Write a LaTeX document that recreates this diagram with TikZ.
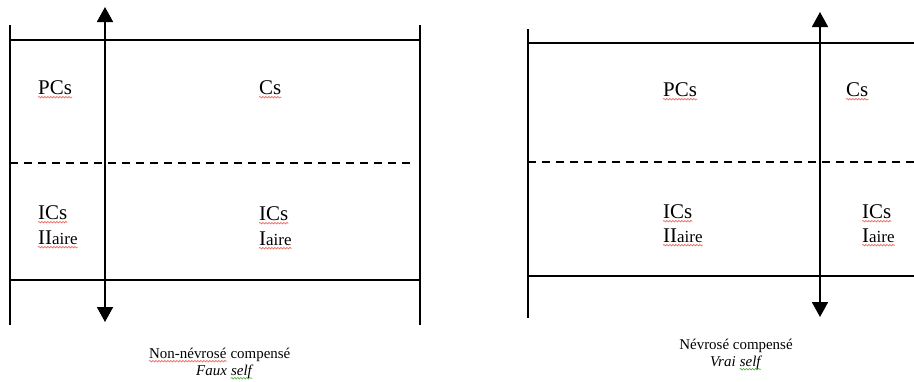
\documentclass[tikz,border=0pt]{standalone}
\usepackage{fontspec}
\setmainfont{Liberation Serif}
\usetikzlibrary{arrows.meta,decorations.pathmorphing}

\definecolor{spellred}{RGB}{235,95,80}
\definecolor{spellgreen}{RGB}{90,175,70}

\tikzset{
  rule/.style={draw=black, line width=1.8bp},
  divider/.style={rule, dash pattern=on 8bp off 6bp},
  axis/.style={rule, {Triangle[length=15bp,width=16bp]}-{Triangle[length=15bp,width=16bp]}},
  lab/.style={inner sep=0pt, anchor=base west, font=\fontsize{21}{25}\selectfont},
  captext/.style={inner sep=0pt, anchor=base west, font=\fontsize{15}{18}\selectfont},
  captextit/.style={captext, font=\fontsize{15}{18}\selectfont\itshape},
  spell/.style={draw=spellred, line width=0.6bp, decorate,
                decoration={snake, amplitude=0.8bp, segment length=3bp}},
  gram/.style={spell, draw=spellgreen},
}

% smaller ordinal ending after a roman numeral
\newcommand{\ordsuffix}{{\fontsize{17}{20}\selectfont aire}}

% wavy proofing mark under a node's text
\newcommand{\wavemark}[2][spell]{%
  \draw[#1] ([yshift=-3.2bp]#2.base west) -- ([yshift=-3.2bp]#2.base east);}

\begin{document}
\begin{tikzpicture}[x=1bp, y=-1bp]
  \fill[white] (0,0) rectangle (914,381);
  \useasboundingbox (0,0) rectangle (914,381);

  % ---------- left panel: frame ----------
  \coordinate (Lvl1) at (10,25);   \coordinate (Lvl2) at (10,325);
  \coordinate (Lvr1) at (420,25);  \coordinate (Lvr2) at (420,325);
  \coordinate (Ltop1) at (10,40);  \coordinate (Ltop2) at (420,40);
  \coordinate (Lbot1) at (10,280); \coordinate (Lbot2) at (420,280);
  \coordinate (Ldash1) at (10,163); \coordinate (Ldash2) at (413,163);
  \coordinate (Lax1) at (105,7);   \coordinate (Lax2) at (105,322);

  \draw[rule] (Lvl1) -- (Lvl2);
  \draw[rule] (Lvr1) -- (Lvr2);
  \draw[rule] (Ltop1) -- (Ltop2);
  \draw[rule] (Lbot1) -- (Lbot2);
  \draw[divider] (Ldash1) -- (Ldash2);
  \draw[axis] (Lax1) -- (Lax2);

  % ---------- left panel: labels ----------
  \node[lab] (LPCs) at (38,94) {PCs};
  \node[lab] (LCs) at (259,94) {Cs};
  \node[lab] (LICsA) at (38,219) {ICs};
  \node[lab] (LIIaire) at (38,244) {II\ordsuffix};
  \node[lab] (LICsB) at (259,220) {ICs};
  \node[lab] (LIaire) at (259,245) {I\ordsuffix};
  \foreach \n in {LPCs,LCs,LICsA,LIIaire,LICsB,LIaire} {\wavemark{\n}}

  % ---------- left panel: caption ----------
  \node[captext] (LcapA) at (149,358) {Non-névrosé};
  \node[captext] (LcapB) at ([xshift=3.8bp]LcapA.base east) {compensé};
  \node[captextit] (LcapC) at (196,375) {Faux};
  \node[captextit] (LcapD) at ([xshift=3.8bp]LcapC.base east) {self};
  \wavemark{LcapA}
  \wavemark[gram]{LcapD}

  % ---------- right panel: frame ----------
  \coordinate (Rvl1) at (528,29);  \coordinate (Rvl2) at (528,318);
  \coordinate (Rtop1) at (528,43); \coordinate (Rtop2) at (914,43);
  \coordinate (Rbot1) at (528,276); \coordinate (Rbot2) at (914,276);
  \coordinate (Rdash1) at (528,162); \coordinate (Rdash2) at (914,162);
  \coordinate (Rax1) at (820,12);  \coordinate (Rax2) at (820,317);

  \draw[rule] (Rvl1) -- (Rvl2);
  \draw[rule] (Rtop1) -- (Rtop2);
  \draw[rule] (Rbot1) -- (Rbot2);
  \draw[divider] (Rdash1) -- (Rdash2);
  \draw[axis] (Rax1) -- (Rax2);

  % ---------- right panel: labels ----------
  \node[lab] (RPCs) at (663,96) {PCs};
  \node[lab] (RCs) at (846,96) {Cs};
  \node[lab] (RICsA) at (663,218) {ICs};
  \node[lab] (RIIaire) at (663,242) {II\ordsuffix};
  \node[lab] (RICsB) at (862,218) {ICs};
  \node[lab] (RIaire) at (862,242) {I\ordsuffix};
  \foreach \n in {RPCs,RCs,RICsA,RIIaire,RICsB,RIaire} {\wavemark{\n}}

  % ---------- right panel: caption ----------
  \node[captext, anchor=base] (RcapA) at (736,349) {Névrosé compensé};
  \node[captextit] (RcapC) at (710,366) {Vrai};
  \node[captextit] (RcapD) at ([xshift=3.8bp]RcapC.base east) {self};
  \wavemark[gram]{RcapD}
\end{tikzpicture}
\end{document}
